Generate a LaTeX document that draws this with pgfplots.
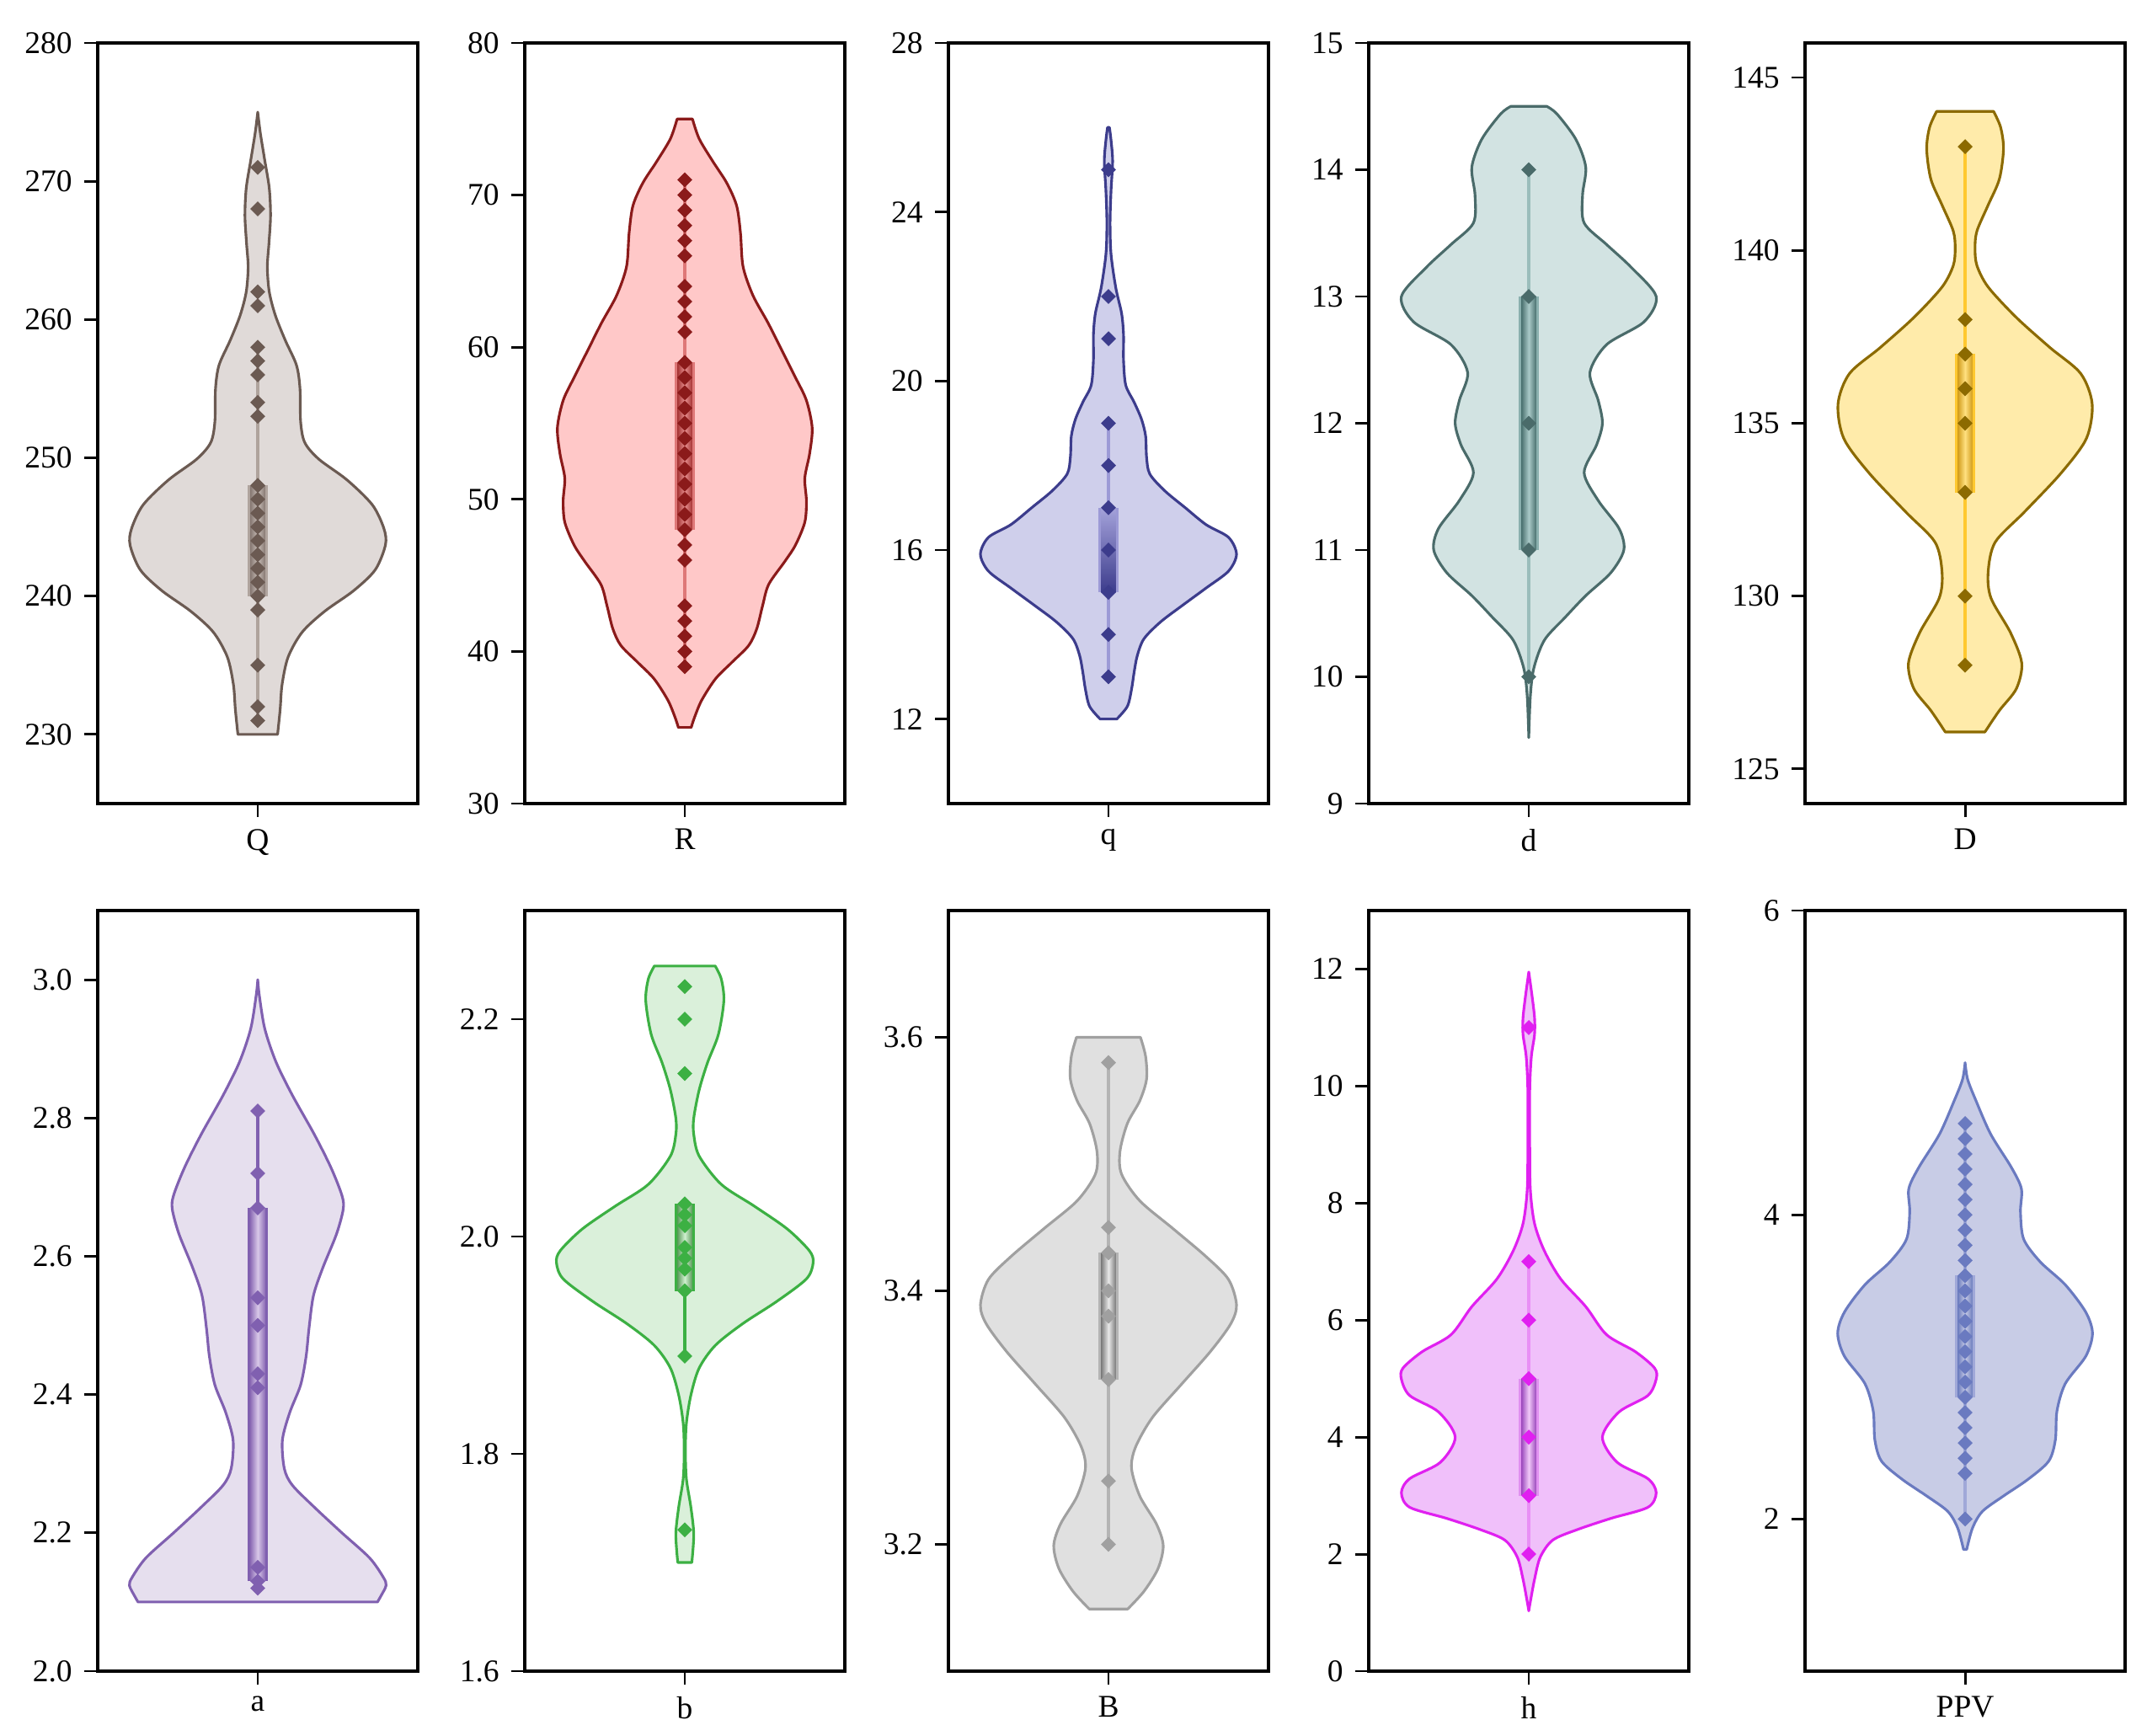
\documentclass[border=0pt]{standalone}
\usepackage{fontspec}
\setmainfont{Liberation Serif}
\usepackage{pgfplots}
\usepackage{pgfplotstable}
\pgfplotsset{compat=1.18}
\usepgfplotslibrary{fillbetween}

% ---- colours ----
\definecolor{Qfill}{HTML}{E0DAD8}\definecolor{Qedge}{HTML}{6B5A52}\definecolor{Qpt}{HTML}{6B5A52}
\definecolor{Qwhisk}{HTML}{AFA39C}\definecolor{Qbox}{HTML}{B0A49E}\definecolor{Qdark}{HTML}{8A7C76}\definecolor{Qlight}{HTML}{C8BEB8}
\definecolor{Rfill}{HTML}{FFC8C8}\definecolor{Redge}{HTML}{8B1A1A}\definecolor{Rpt}{HTML}{8B1A1A}
\definecolor{Rwhisk}{HTML}{DE7878}\definecolor{Rbox}{HTML}{DE7878}\definecolor{Rdark}{HTML}{A83838}\definecolor{Rlight}{HTML}{E89090}
\definecolor{sqfill}{HTML}{CFCFEB}\definecolor{sqedge}{HTML}{3C3C8C}\definecolor{sqpt}{HTML}{3C3C8C}
\definecolor{sqwhisk}{HTML}{9C9AD6}\definecolor{sqbox}{HTML}{9C9AD6}\definecolor{sqdark}{HTML}{3C3C8C}\definecolor{sqlight}{HTML}{A4A2DA}
\definecolor{sdfill}{HTML}{D2E3E2}\definecolor{sdedge}{HTML}{4A6B6A}\definecolor{sdpt}{HTML}{4A6B6A}
\definecolor{sdwhisk}{HTML}{9ABDBB}\definecolor{sdbox}{HTML}{8AB0AE}\definecolor{sddark}{HTML}{4F7674}\definecolor{sdlight}{HTML}{A9C9C7}
\definecolor{Dfill}{HTML}{FFEBAA}\definecolor{Dedge}{HTML}{8C6A00}\definecolor{Dpt}{HTML}{8C6A00}
\definecolor{Dwhisk}{HTML}{FFC830}\definecolor{Dbox}{HTML}{FFC830}\definecolor{Ddark}{HTML}{D4A020}\definecolor{Dlight}{HTML}{FFE080}
\definecolor{safill}{HTML}{E6DFEE}\definecolor{saedge}{HTML}{8060B0}\definecolor{sapt}{HTML}{8060B0}
\definecolor{sawhisk}{HTML}{8060B0}\definecolor{sabox}{HTML}{8060B0}\definecolor{sadark}{HTML}{9070B8}\definecolor{salight}{HTML}{D8C8E8}
\definecolor{sbfill}{HTML}{DAF0DA}\definecolor{sbedge}{HTML}{3CB043}\definecolor{sbpt}{HTML}{3CB043}
\definecolor{sbwhisk}{HTML}{3CB043}\definecolor{sbbox}{HTML}{3CB043}\definecolor{sbdark}{HTML}{60A060}\definecolor{sblight}{HTML}{D0F0D0}
\definecolor{Bfill}{HTML}{E0E0E0}\definecolor{Bedge}{HTML}{A0A0A0}\definecolor{Bpt}{HTML}{A0A0A0}
\definecolor{Bwhisk}{HTML}{B4B4B4}\definecolor{Bbox}{HTML}{B4B4B4}\definecolor{Bdark}{HTML}{808080}\definecolor{Blight}{HTML}{E8E8E8}
\definecolor{shfill}{HTML}{F0C0FA}\definecolor{shedge}{HTML}{E020F0}\definecolor{shpt}{HTML}{E020F0}
\definecolor{shwhisk}{HTML}{E890F5}\definecolor{shbox}{HTML}{E090F0}\definecolor{shdark}{HTML}{A050C0}\definecolor{shlight}{HTML}{F0C8F8}
\definecolor{Pfill}{HTML}{C8CCE6}\definecolor{Pedge}{HTML}{6A7AC0}\definecolor{Ppt}{HTML}{6A7AC0}
\definecolor{Pwhisk}{HTML}{A0A8D8}\definecolor{Pbox}{HTML}{A0A8D8}\definecolor{Pdark}{HTML}{7080C0}\definecolor{Plight}{HTML}{C8CCE6}

% ---- violin outlines: y, right half-width ----
\pgfplotstableread{
y w
230.0 0.062
231.8 0.070
233.6 0.076
235.6 0.095
237.4 0.139
238.9 0.209
240.4 0.300
241.9 0.367
243.7 0.399
244.9 0.394
246.6 0.358
248.4 0.279
249.9 0.191
251.1 0.147
252.6 0.134
255.0 0.132
256.7 0.121
258.5 0.086
260.3 0.055
262.0 0.036
263.8 0.030
265.5 0.035
267.5 0.040
269.5 0.036
271.5 0.022
273.5 0.008
275.0 0.000
}\tQ
\pgfplotstableread{
y w
35.0 0.020
35.7 0.031
36.8 0.053
38.2 0.096
39.3 0.148
40.4 0.200
41.5 0.225
43.0 0.243
44.4 0.262
45.9 0.312
47.0 0.346
48.5 0.375
49.9 0.380
51.4 0.375
53.0 0.390
54.7 0.398
56.5 0.380
58.0 0.346
59.8 0.303
61.6 0.260
63.4 0.213
65.3 0.182
67.5 0.174
69.3 0.162
70.8 0.131
72.2 0.088
73.7 0.045
75.0 0.024
}\tR
\pgfplotstableread{
y w
12.0 0.026
12.3 0.059
12.7 0.072
13.1 0.080
13.5 0.090
13.9 0.111
14.3 0.163
14.7 0.233
15.1 0.305
15.5 0.375
15.9 0.400
16.3 0.375
16.6 0.305
17.0 0.240
17.4 0.176
17.8 0.129
18.2 0.119
18.7 0.116
19.1 0.103
19.5 0.080
19.9 0.054
20.5 0.047
21.1 0.047
21.6 0.041
22.2 0.023
23.0 0.008
23.75 0.005
24.5 0.008
25.2 0.013
25.7 0.008
26.0 0.003
}\tq
\pgfplotstableread{
y w
9.52 0.000
9.85 0.005
10.07 0.016
10.29 0.049
10.47 0.114
10.64 0.178
10.82 0.256
11.0 0.297
11.17 0.282
11.39 0.217
11.61 0.173
11.83 0.212
12.0 0.230
12.18 0.217
12.4 0.191
12.62 0.243
12.8 0.360
13.0 0.398
13.23 0.320
13.41 0.243
13.58 0.173
13.8 0.168
14.02 0.178
14.24 0.147
14.44 0.088
14.5 0.056
}\td
\pgfplotstableread{
y w
126.07 0.062
126.69 0.107
127.32 0.160
128.06 0.177
128.94 0.142
129.94 0.081
130.69 0.072
131.56 0.094
132.44 0.186
133.56 0.300
134.56 0.379
135.56 0.397
136.44 0.361
137.19 0.265
138.06 0.160
138.94 0.072
139.56 0.037
140.06 0.031
140.56 0.037
141.31 0.072
142.06 0.107
142.93 0.120
143.56 0.111
144.02 0.089
}\tD
\pgfplotstableread{
y w
2.100 0.374
2.108 0.384
2.124 0.401
2.136 0.392
2.164 0.349
2.200 0.263
2.237 0.177
2.269 0.108
2.293 0.083
2.334 0.077
2.374 0.100
2.414 0.134
2.455 0.151
2.495 0.160
2.543 0.174
2.583 0.203
2.632 0.246
2.668 0.267
2.688 0.263
2.728 0.229
2.776 0.177
2.833 0.108
2.881 0.057
2.929 0.022
2.977 0.005
3.000 0.000
}\ta
\pgfplotstableread{
y w
1.700 0.022
1.726 0.028
1.751 0.019
1.777 0.005
1.803 0.002
1.828 0.005
1.854 0.019
1.879 0.045
1.900 0.096
1.920 0.182
1.940 0.286
1.961 0.380
1.976 0.401
1.987 0.389
2.007 0.320
2.028 0.217
2.048 0.114
2.074 0.045
2.094 0.028
2.109 0.028
2.135 0.045
2.160 0.071
2.186 0.105
2.217 0.122
2.237 0.114
2.249 0.095
}\tb
\pgfplotstableread{
y w
3.149 0.060
3.163 0.111
3.181 0.155
3.199 0.171
3.216 0.150
3.238 0.098
3.260 0.072
3.277 0.085
3.300 0.137
3.326 0.227
3.352 0.318
3.374 0.382
3.389 0.400
3.409 0.375
3.427 0.305
3.449 0.202
3.471 0.098
3.492 0.041
3.510 0.036
3.532 0.059
3.550 0.098
3.567 0.119
3.585 0.116
3.600 0.100
}\tB
\pgfplotstableread{
y w
1.03 0.000
1.19 0.005
1.57 0.018
1.95 0.036
2.24 0.075
2.42 0.152
2.61 0.256
2.80 0.372
3.05 0.398
3.29 0.372
3.57 0.276
4.00 0.230
4.43 0.282
4.71 0.372
4.99 0.398
5.18 0.393
5.46 0.333
5.75 0.243
6.23 0.178
6.70 0.100
7.18 0.049
7.65 0.018
8.22 0.005
8.98 0.003
9.93 0.003
10.50 0.008
10.88 0.018
11.17 0.018
11.55 0.010
11.95 0.000
}\th
\pgfplotstableread{
y w
1.80 0.005
1.94 0.023
2.05 0.054
2.15 0.119
2.26 0.196
2.38 0.261
2.52 0.282
2.71 0.287
2.89 0.313
3.07 0.377
3.22 0.398
3.36 0.377
3.54 0.313
3.69 0.235
3.84 0.183
4.02 0.173
4.17 0.176
4.31 0.145
4.53 0.080
4.75 0.034
4.89 0.008
5.00 0.000
}\tP

\tikzset{
  hsh/.style={left color=#1dark, right color=#1dark, middle color=#1light},
  vsh/.style={top color=#1light, bottom color=#1dark},
}

% #1 table, #2 colour prefix, #3 box lo, #4 box hi, #5 whisker lo, #6 whisker hi, #7 points, #8 box shading style
\newcommand\violin[8]{%
  \addplot[name path=#2vr, draw=none, smooth, tension=0.5] table[x=w,y=y] {#1};
  \addplot[name path=#2vl, draw=none, smooth, tension=0.5] table[x expr=-\thisrow{w},y=y] {#1};
  \addplot[fill=#2fill, draw=#2edge, line width=0.75pt, line join=round] fill between[of=#2vr and #2vl, reverse=true];
  \addplot[#2whisk, line width=1pt] coordinates {(0,#5) (0,#6)};
  \addplot[fill=#2box, draw=none] coordinates {(-0.032,#3) (0.032,#3) (0.032,#4) (-0.032,#4)};
  \addplot[draw=none, #8=#2] coordinates {(-0.022,#3) (0.022,#3) (0.022,#4) (-0.022,#4)};
  \addplot[only marks, mark=diamond*, mark size=1.85pt, mark options={xscale=1.333, draw=#2pt, fill=#2pt}] coordinates {#7};
}

\pgfplotsset{
  vp/.style={
    scale only axis, width=91.2pt, height=216.72pt,
    anchor=south west,
    xmin=-0.5, xmax=0.5, xtick={0},
    xtick pos=bottom, ytick pos=left,
    tick align=outside, major tick length=3.75pt,
    axis line style={line width=0.8pt},
    major tick style={line width=0.7pt, black},
    tick label style={font=\fontsize{9}{10}\selectfont},
    /pgf/number format/assume math mode=true,
  },
}

\begin{document}
\begin{tikzpicture}
\path (0,0) rectangle (611.76pt,494.4pt);

% ---------------- row 1 ----------------
\begin{axis}[vp, at={(27.84pt,265.44pt)}, ymin=225, ymax=280, ytick={230,240,...,280}, xticklabels={Q}]
\violin{\tQ}{Q}{240}{248}{231}{258}{(0,271) (0,268) (0,262) (0,261) (0,258) (0,257) (0,256) (0,254) (0,253) (0,248) (0,247) (0,246) (0,245) (0,244) (0,243) (0,242) (0,241) (0,240) (0,239) (0,235) (0,232) (0,231)}{hsh}
\end{axis}

\begin{axis}[vp, at={(149.52pt,265.44pt)}, ymin=30, ymax=80, ytick={30,40,...,80}, xticklabels={R}]
\violin{\tR}{R}{48}{59}{39}{71}{(0,71) (0,70) (0,69) (0,68) (0,67) (0,66) (0,64) (0,63) (0,62) (0,61) (0,59) (0,58) (0,57) (0,56) (0,55) (0,54) (0,53) (0,52) (0,51) (0,50) (0,49) (0,48) (0,47) (0,46) (0,43) (0,42) (0,41) (0,40) (0,39)}{hsh}
\end{axis}

\begin{axis}[vp, at={(270.24pt,265.44pt)}, ymin=10, ymax=28, ytick={12,16,20,24,28}, xticklabels={q}]
\violin{\tq}{sq}{15}{17}{13}{19}{(0,25) (0,22) (0,21) (0,19) (0,18) (0,17) (0,16) (0,15) (0,14) (0,13)}{vsh}
\end{axis}

\begin{axis}[vp, at={(390pt,265.44pt)}, ymin=9, ymax=15, ytick={9,10,...,15}, xticklabels={d}]
\violin{\td}{sd}{11}{13}{10}{14}{(0,14) (0,13) (0,12) (0,11) (0,10)}{hsh}
\end{axis}

\begin{axis}[vp, at={(514.32pt,265.44pt)}, ymin=124, ymax=146, ytick={125,130,...,145}, xticklabels={D}]
\violin{\tD}{D}{133}{137}{128}{143}{(0,143) (0,138) (0,137) (0,136) (0,135) (0,133) (0,130) (0,128)}{hsh}
\end{axis}

% ---------------- row 2 ----------------
\begin{axis}[vp, at={(27.84pt,18.24pt)}, ymin=2.0, ymax=3.1, ytick={2.0,2.2,...,3.0}, xticklabels={a},
  yticklabel style={/pgf/number format/.cd, fixed, fixed zerofill, precision=1}]
\violin{\ta}{sa}{2.13}{2.67}{2.12}{2.81}{(0,2.81) (0,2.72) (0,2.67) (0,2.54) (0,2.50) (0,2.43) (0,2.41) (0,2.15) (0,2.13) (0,2.12)}{hsh}
\end{axis}

\begin{axis}[vp, at={(149.52pt,18.24pt)}, ymin=1.6, ymax=2.3, ytick={1.6,1.8,2.0,2.2}, xticklabels={b},
  yticklabel style={/pgf/number format/.cd, fixed, fixed zerofill, precision=1}]
\violin{\tb}{sb}{1.95}{2.03}{1.89}{2.03}{(0,2.23) (0,2.20) (0,2.15) (0,2.03) (0,2.02) (0,2.01) (0,1.99) (0,1.98) (0,1.97) (0,1.95) (0,1.89) (0,1.73)}{hsh}
\end{axis}

\begin{axis}[vp, at={(270.24pt,18.24pt)}, ymin=3.1, ymax=3.7, ytick={3.2,3.4,3.6}, xticklabels={B},
  yticklabel style={/pgf/number format/.cd, fixed, fixed zerofill, precision=1}]
\violin{\tB}{B}{3.33}{3.43}{3.20}{3.58}{(0,3.58) (0,3.45) (0,3.43) (0,3.40) (0,3.38) (0,3.33) (0,3.25) (0,3.20)}{hsh}
\end{axis}

\begin{axis}[vp, at={(390pt,18.24pt)}, ymin=0, ymax=13, ytick={0,2,...,12}, xticklabels={h}]
\violin{\th}{sh}{3}{5}{2}{7}{(0,11) (0,7) (0,6) (0,5) (0,4) (0,3) (0,2)}{hsh}
\end{axis}

\begin{axis}[vp, at={(514.32pt,18.24pt)}, ymin=1, ymax=6, ytick={2,4,6}, xticklabels={PPV}]
\violin{\tP}{P}{2.8}{3.6}{2.0}{4.6}{(0,4.6) (0,4.5) (0,4.4) (0,4.3) (0,4.2) (0,4.1) (0,4.0) (0,3.9) (0,3.8) (0,3.7) (0,3.6) (0,3.5) (0,3.4) (0,3.3) (0,3.2) (0,3.1) (0,3.0) (0,2.9) (0,2.8) (0,2.7) (0,2.6) (0,2.5) (0,2.4) (0,2.3) (0,2.0)}{hsh}
\end{axis}
\end{tikzpicture}
\end{document}
